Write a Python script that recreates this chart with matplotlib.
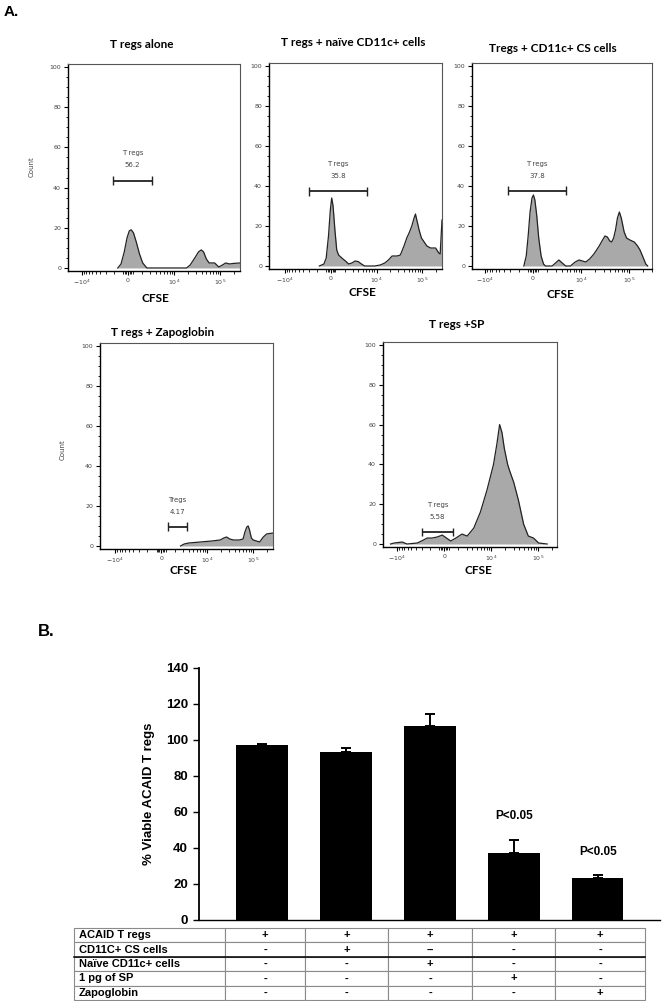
import numpy as np
import matplotlib
matplotlib.use("Agg")
import matplotlib.pyplot as plt

# ---- flow histograms (x in display units: 0=-10^4, 1=0, 2=10^4, 3=10^5) ----
p1_x = [0.78, 0.85, 0.92, 0.98, 1.03, 1.07, 1.12, 1.18, 1.25, 1.32, 1.41, 2.27, 2.35, 2.45, 2.53,
        2.59, 2.64, 2.70, 2.76, 2.82, 2.88, 2.97, 3.05, 3.12, 3.20, 3.30, 3.43]
p1_y = [0, 2, 8, 15, 18.5, 19, 17.5, 13, 7, 2.5, 0, 0, 1.5, 5, 8, 9, 8, 4.5, 2.5, 2.5, 2.5, 0.5,
        1.5, 2.5, 2, 2.3, 2.5]

p2_x = [0.75, 0.85, 0.90, 0.95, 0.99, 1.02, 1.05, 1.09, 1.13, 1.17, 1.24, 1.32, 1.39, 1.46, 1.53,
        1.60, 1.67, 1.74, 1.96, 2.08, 2.18, 2.26, 2.34, 2.45, 2.52, 2.60, 2.66, 2.72, 2.77, 2.82,
        2.85, 2.88, 2.93, 2.98, 3.04, 3.10, 3.18, 3.29, 3.36, 3.39, 3.43]
p2_y = [0, 1, 4, 15, 28, 34, 30, 18, 8, 5.5, 4, 2.5, 1, 1.5, 2.5, 2.2, 1, 0, 0, 0.5, 1.5, 3, 5,
        5, 5.5, 10, 14, 17, 20, 24, 26, 23, 18, 14, 12, 10, 9, 9, 6.5, 6, 23]

p3_x = [0.81, 0.86, 0.90, 0.94, 0.98, 1.01, 1.04, 1.08, 1.12, 1.17, 1.22, 1.26, 1.40, 1.47, 1.54,
        1.61, 1.68, 1.78, 1.88, 1.96, 2.03, 2.10, 2.18, 2.27, 2.38, 2.45, 2.50, 2.55, 2.60, 2.64,
        2.68, 2.72, 2.76, 2.80, 2.84, 2.90, 2.95, 3.02, 3.11, 3.18, 3.23, 3.30, 3.35, 3.39]
p3_y = [0, 5, 15, 27, 34, 35.5, 33, 25, 14, 5, 1, 0, 0, 1.5, 3, 1.5, 0, 0, 2, 3, 2.5, 2, 3.5, 6,
        10, 13, 15, 14.5, 12.5, 12, 14, 18, 24, 27, 24, 17, 14, 13, 12, 10, 8, 4, 1, 0]

p4_x = [1.42, 1.50, 1.60, 1.85, 2.10, 2.28, 2.36, 2.42, 2.49, 2.57, 2.70, 2.78, 2.82, 2.86, 2.89,
        2.92, 2.96, 3.00, 3.14, 3.22, 3.29, 3.43]
p4_y = [0, 1, 1.5, 2, 2.5, 3, 4, 4.5, 3.5, 3, 3, 3.5, 7, 9.5, 10, 8, 4, 3, 2, 4.5, 6, 6.5]

p5_x = [-0.14, -0.06, 0.11, 0.21, 0.43, 0.56, 0.64, 0.74, 0.85, 0.96, 1.05, 1.14, 1.25, 1.38, 1.49,
        1.63, 1.77, 1.91, 2.05, 2.12, 2.18, 2.23, 2.28, 2.35, 2.39, 2.48, 2.58, 2.69, 2.79, 2.90,
        3.01, 3.19]
p5_y = [0, 0.5, 1, 0, 0.5, 2, 3, 3, 3.5, 4.5, 3, 1.5, 3, 5, 4, 8, 16, 27, 40, 50, 60, 56, 48, 40,
        37, 31, 22, 10, 4, 3, 0.5, 0]

titles = ["T regs alone", "T regs + naïve CD11c+ cells", "Tregs + CD11c+ CS cells",
          "T regs + Zapoglobin", "T regs +SP"]
gate_names = ["T regs", "T regs", "T regs", "Tregs", "T regs"]
gate_pct = ["56.2", "35.8", "37.8", "4.17", "5.58"]
gate_x0 = [0.67, 0.52, 0.48, 1.14, 0.53]
gate_x1 = [1.53, 1.80, 1.69, 1.57, 1.18]
gate_y = [43.5, 37.3, 37.7, 9.6, 6.0]

xtick_pos = [0, 1, 2, 3]
xtick_lab = [r"$-10^4$", "0", r"$10^4$", r"$10^5$"]

# ---- bar chart ----
bar_vals = [97.5, 93.5, 108, 37.5, 23.5]
bar_err = [0.5, 1.8, 6.3, 7.2, 1.3]
p_labels = ["", "", "", "P<0.05", "P<0.05"]

conditions = ["ACAID T regs", "CD11C+ CS cells", "Naïve CD11c+ cells", "1 pg of SP", "Zapoglobin"]
signs = [["+", "+", "+", "+", "+"],
         ["-", "+", "--", "-", "-"],
         ["-", "-", "+", "-", "-"],
         ["-", "-", "-", "+", "-"],
         ["-", "-", "-", "-", "+"]]

W, H = 666, 1001
fig = plt.figure(figsize=(W / 100, H / 100), dpi=100)


def box(l, t, r, b):
    return [l / W, 1 - b / H, (r - l) / W, (b - t) / H]


def ftext(x, y, s, **kw):
    fig.text(x / W, 1 - y / H, s, **kw)


# pixel boxes, x-limits, title / CFSE positions
panels = [
    dict(b=(68, 64, 240, 271), xl=(-0.30, 3.43), t=(142, 45), c=(155, 298), count=(32, 167)),
    dict(b=(269, 63, 442, 269), xl=(-0.35, 3.43), t=(353, 43), c=(362, 293), count=None),
    dict(b=(472, 63, 652, 269), xl=(-0.27, 3.48), t=(553, 48), c=(560, 295), count=None),
    dict(b=(100, 343, 273, 549), xl=(-0.33, 3.43), t=(163, 332), c=(183, 571), count=(63, 450)),
    dict(b=(383, 342, 557, 547), xl=(-0.30, 3.40), t=(457, 325), c=(478, 570), count=None),
]
hist_x = [p1_x, p2_x, p3_x, p4_x, p5_x]
hist_y = [p1_y, p2_y, p3_y, p4_y, p5_y]

minor_x = []
for k in range(2, 10):
    minor_x += [1 - np.log10(k), 1 + np.log10(k), 2 + np.log10(k), 3 + np.log10(k)]
minor_x += [0.9, 0.93, 0.96, 1.04, 1.07, 1.1]

title_font = ["Lato", "DejaVu Sans"]
for i, p in enumerate(panels):
    ax = fig.add_axes(box(*p["b"]))
    ax.fill_between(hist_x[i], hist_y[i], 0, color="#a9a9a9", lw=0)
    ax.plot(hist_x[i], hist_y[i], color="#222222", lw=0.9)
    ax.set_xlim(*p["xl"])
    ax.set_ylim(-1.5, 101.5)
    ax.set_yticks(range(0, 101, 20))
    ax.set_yticks(range(0, 101, 5), minor=True)
    ax.set_xticks(xtick_pos)
    ax.set_xticklabels(xtick_lab)
    ax.set_xticks([m for m in minor_x if p["xl"][0] < m < p["xl"][1]], minor=True)
    ax.tick_params(labelsize=4.5, labelcolor="#444444", length=3, width=0.8, pad=2)
    ax.tick_params(which="minor", length=1.8, width=0.6)
    for s in ["top", "right"]:
        ax.spines[s].set_color("#555555")
        ax.spines[s].set_linewidth(0.8)
    for s in ["left", "bottom"]:
        ax.spines[s].set_linewidth(1.0)
    # gate
    ax.hlines(gate_y[i], gate_x0[i], gate_x1[i], color="#222222", lw=1.3)
    ax.vlines([gate_x0[i], gate_x1[i]], gate_y[i] - 2.2, gate_y[i] + 2.2, color="#222222", lw=1.0)
    xm = (gate_x0[i] + gate_x1[i]) / 2
    ax.text(xm, gate_y[i] + 13.5, gate_names[i], ha="center", va="center", fontsize=5, color="#444444")
    ax.text(xm, gate_y[i] + 7.5, gate_pct[i], ha="center", va="center", fontsize=5, color="#444444")
    ftext(*p["t"], titles[i], ha="center", va="center", fontsize=8.5, fontweight="bold",
          family=title_font)
    ftext(*p["c"], "CFSE", ha="center", va="center", fontsize=8.5, fontweight="bold",
          family=title_font)
    if p["count"]:
        ftext(*p["count"], "Count", ha="center", va="center", fontsize=5, rotation=90, color="#444444")

ftext(4, 12, "A.", fontsize=11, fontweight="bold", family="Liberation Sans", va="center")
ftext(38, 632, "B.", fontsize=12, fontweight="bold", family="Liberation Sans", va="center")

# ---- bar chart ----
axb = fig.add_axes(box(199, 668, 660, 920))
pos = np.arange(len(bar_vals))
axb.bar(pos, bar_vals, width=0.61, color="black",
        yerr=[np.zeros(len(bar_err)), bar_err],
        error_kw=dict(ecolor="black", elinewidth=1.4, capsize=3.6, capthick=1.4))
axb.set_xlim(-0.75, 4.74)
axb.set_ylim(0, 140)
axb.set_yticks(range(0, 141, 20))
axb.set_xticks([])
for s in ["top", "right"]:
    axb.spines[s].set_visible(False)
axb.spines["left"].set_linewidth(1.3)
axb.spines["bottom"].set_linewidth(1.0)
axb.tick_params(axis="y", length=4, width=1.0, pad=4)
for lab in axb.get_yticklabels():
    lab.set_fontweight("bold")
    lab.set_fontsize(9.5)
    lab.set_family("Liberation Sans")
axb.set_ylabel("% Viable ACAID T regs", fontsize=9.5, fontweight="bold",
               family="Liberation Sans", labelpad=8)
for i, t in enumerate(p_labels):
    if t:
        axb.text(pos[i], bar_vals[i] + bar_err[i] + 13, t, ha="center", va="center",
                 fontsize=8.5, fontweight="bold", family="Liberation Sans")

# ---- condition table ----
axt = fig.add_axes(box(74, 928, 645, 1000))
axt.axis("off")
cell_text = [[conditions[r]] + signs[r] for r in range(len(conditions))]
tbl = axt.table(cellText=cell_text, colWidths=[151, 80, 83, 84, 83, 90],
                cellLoc="center", bbox=[0, 0, 1, 1])
tbl.auto_set_font_size(False)
for (r, c), cell in tbl.get_celld().items():
    cell.set_edgecolor("#8a8a8a")
    cell.set_linewidth(0.8)
    cell.get_text().set_fontsize(8)
    cell.get_text().set_fontweight("bold")
    cell.get_text().set_family("Liberation Sans")
    if c == 0:
        cell.get_text().set_ha("left")
        cell.PAD = 0.03
axt.plot([0, 1], [0.6, 0.6], color="black", lw=1.1, transform=axt.transAxes, clip_on=False)

fig.savefig("out.png", dpi=100)
